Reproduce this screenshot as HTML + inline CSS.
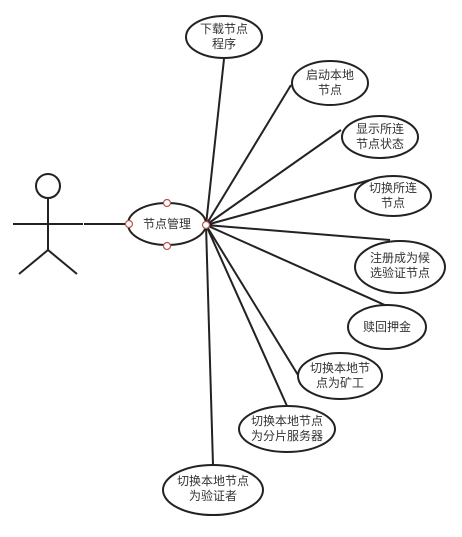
<!DOCTYPE html>
<html><head><meta charset="utf-8"><style>
html,body{margin:0;padding:0;background:#fff;}
svg{display:block;}
text{font-family:"Liberation Sans","Noto Sans CJK SC",sans-serif;font-size:12px;fill:#333;text-anchor:middle;}
</style></head><body>
<svg width="462" height="537" viewBox="0 0 462 537" xmlns="http://www.w3.org/2000/svg">
<g stroke="#222" stroke-width="2" fill="none">
<circle cx="48" cy="186" r="12" fill="#fff"/>
<line x1="48" y1="198" x2="48" y2="250"/>
<line x1="13" y1="224" x2="83" y2="224"/>
<line x1="48" y1="250" x2="19" y2="274"/>
<line x1="48" y1="250" x2="77" y2="274"/>
<line x1="84" y1="224" x2="129" y2="224"/>
<line x1="206" y1="225" x2="224" y2="59"/>
<line x1="206" y1="225" x2="291" y2="85"/>
<line x1="206" y1="225" x2="341" y2="130"/>
<line x1="206" y1="225" x2="370" y2="180"/>
<line x1="206" y1="225" x2="390" y2="240"/>
<line x1="206" y1="225" x2="387" y2="306"/>
<line x1="206" y1="225" x2="298" y2="375"/>
<line x1="206" y1="225" x2="287" y2="406"/>
<line x1="206" y1="225" x2="213" y2="465"/>
</g>
<g stroke="#222" stroke-width="2" fill="#fff">
<ellipse cx="167" cy="224" rx="39" ry="21"/>
<ellipse cx="224" cy="37" rx="38" ry="21"/>
<ellipse cx="330" cy="83" rx="38" ry="22"/>
<ellipse cx="380" cy="137" rx="38" ry="21"/>
<ellipse cx="393" cy="196" rx="38" ry="20"/>
<ellipse cx="400" cy="267" rx="45" ry="26"/>
<ellipse cx="387" cy="327" rx="39" ry="22"/>
<ellipse cx="340" cy="376" rx="42" ry="23"/>
<ellipse cx="287" cy="429" rx="48" ry="23"/>
<ellipse cx="213" cy="490" rx="50" ry="25"/>
</g>
<g stroke="#b85450" stroke-width="1.2" fill="#fff">
<circle cx="129" cy="224" r="3.5"/>
<circle cx="167" cy="203" r="3.5"/>
<circle cx="167" cy="246" r="3.5"/>
<circle cx="206" cy="225" r="3.5"/>
</g>
<text x="167" y="228">节点管理</text>
<text x="224" y="33">下载节点</text><text x="224" y="48">程序</text>
<text x="330" y="79">启动本地</text><text x="330" y="94">节点</text>
<text x="380" y="133">显示所连</text><text x="380" y="148">节点状态</text>
<text x="393" y="192">切换所连</text><text x="393" y="207">节点</text>
<text x="400" y="262">注册成为候</text><text x="400" y="277">选验证节点</text>
<text x="387" y="331">赎回押金</text>
<text x="340" y="372">切换本地节</text><text x="340" y="387">点为矿工</text>
<text x="287" y="425">切换本地节点</text><text x="287" y="440">为分片服务器</text>
<text x="213" y="485">切换本地节点</text><text x="213" y="500">为验证者</text>
</svg>
</body></html>
